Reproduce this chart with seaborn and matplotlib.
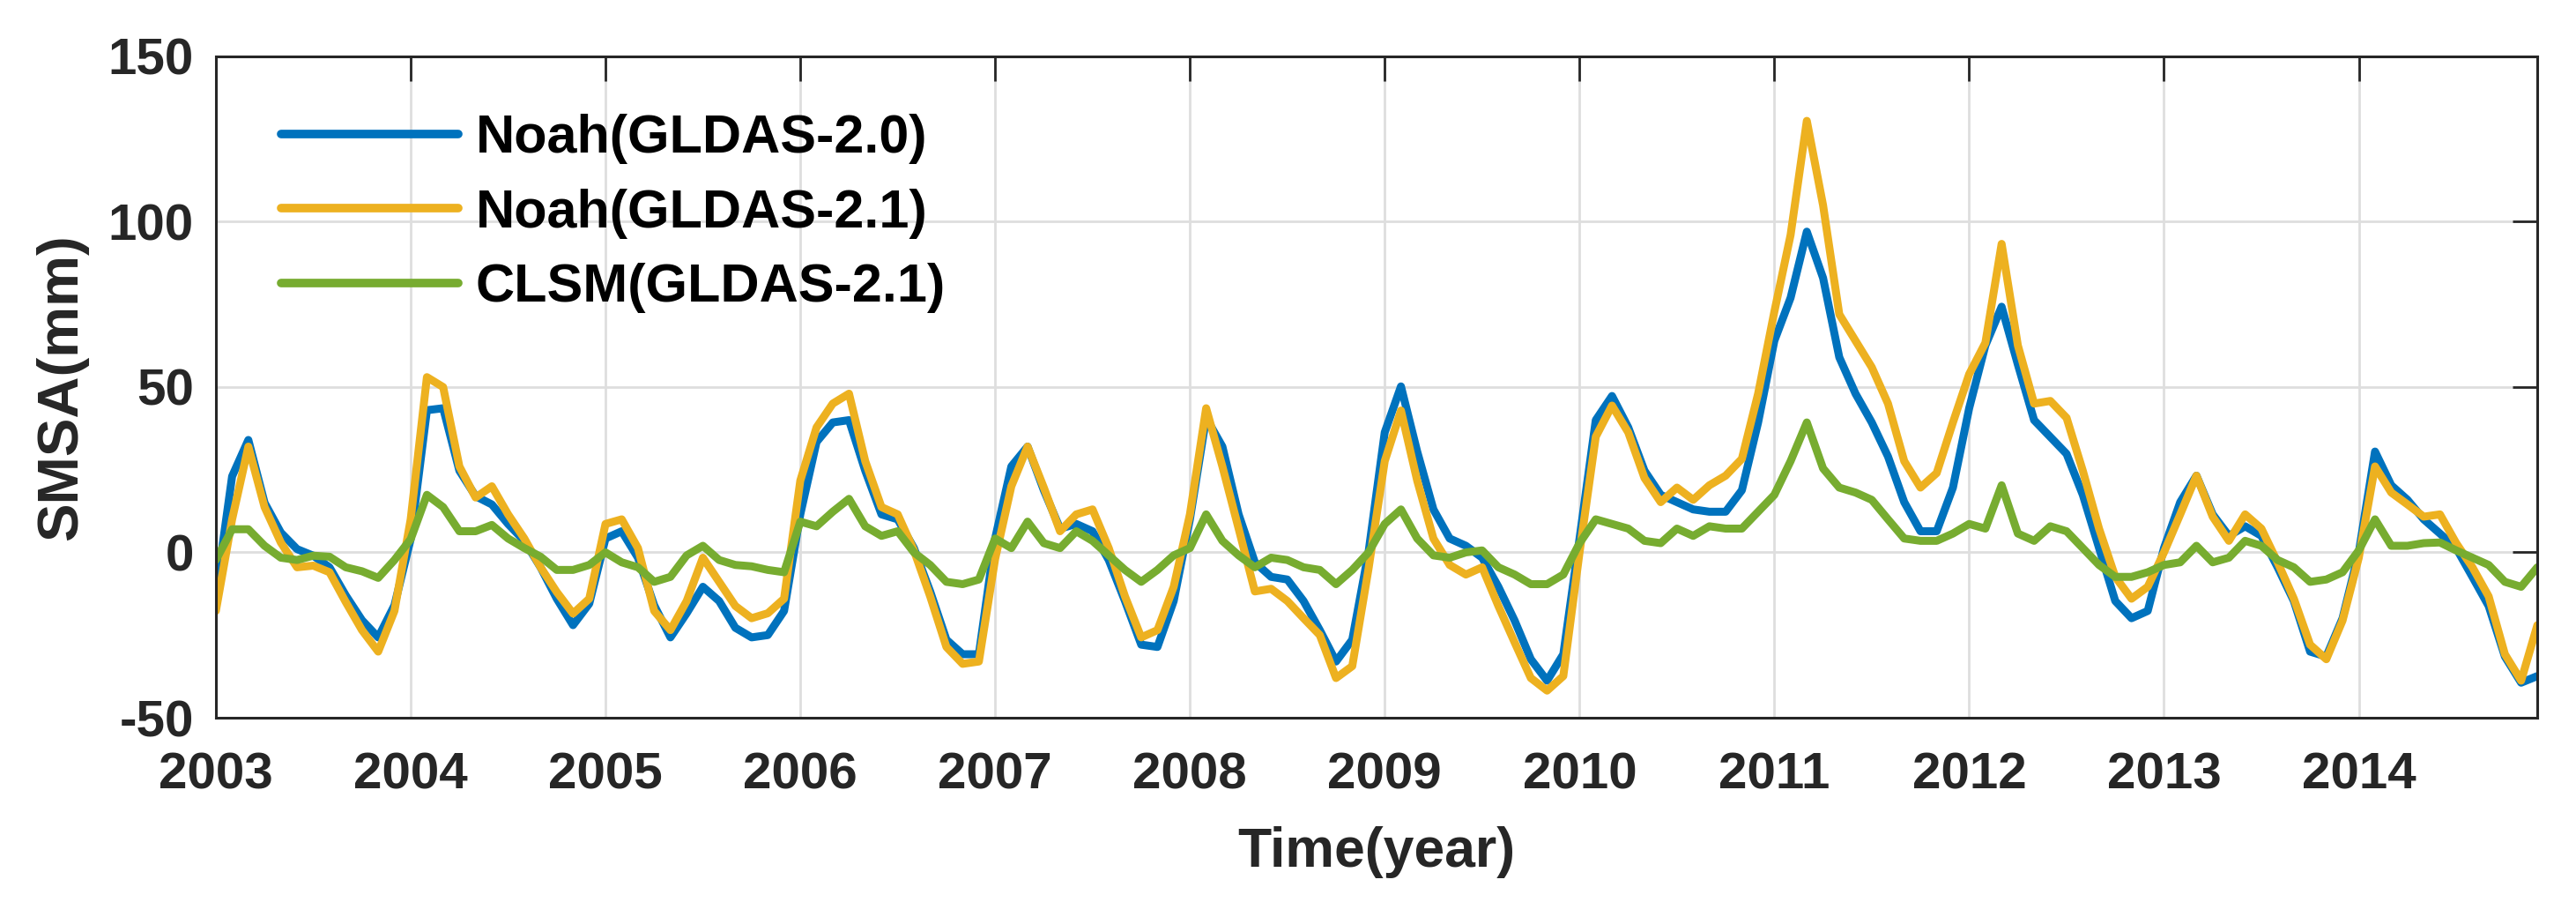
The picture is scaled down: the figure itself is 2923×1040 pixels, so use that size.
import numpy as np
import pandas as pd
import matplotlib
matplotlib.use("Agg")
import matplotlib.pyplot as plt
import seaborn as sns

# Monthly soil moisture storage anomaly (mm), Jan 2003 - Dec 2014
noah20 = [
    -12.5, 23, 34, 15, 6, 1, -1, -4.5, -13, -20.5, -25.7, -16,        # 2003
    4, 43, 43.6, 24.7, 17, 14.5, 8.6, 3.5, -4.5, -14, -22, -15.5,    # 2004
    4.2, 6.4, -1.6, -16, -25.7, -18.4, -10.4, -14.7, -22.8, -25.7, -25, -17.7,  # 2005
    11.5, 33.4, 39.3, 40, 24.7, 11.5, 10, 1.3, -11.8, -26.4, -30.8, -30.8,      # 2006
    4.2, 26, 32, 18.8, 7.2, 8.6, 6.4, -2.3, -14.7, -27.9, -28.6, -14.7,        # 2007
    10, 40.7, 32, 11.5, -3, -7.4, -8.2, -14.7, -23.5, -33, -26.4, 0,          # 2008
    36.3, 50.2, 30.5, 13, 4.2, 2, -1.6, -10.4, -20.6, -32.3, -38.8, -30.8,    # 2009
    4.2, 40, 47.3, 37.8, 24.7, 17.4, 15.2, 13, 12.3, 12.3, 18.8, 39.3,        # 2010
    64, 77, 97, 83, 59, 48, 39.3, 29, 15.2, 6.4, 6.4, 19.6,                   # 2011
    43.6, 62.6, 74.3, 56.8, 40, 34.9, 29.8, 17.4, 1.3, -14.7, -19.9, -17.7,   # 2012
    1.3, 15.2, 23.2, 11.5, 5, 7.9, 5, -4.5, -14.7, -30, -31.5, -19.9,         # 2013
    0, 30.5, 20.3, 15.9, 10, 5.7, 1.3, -7.4, -16.2, -31.5, -39.4, -37.4,      # 2014
]
noah21 = [
    -17.7, 10, 32, 13.7, 3, -4.5, -4, -6, -15, -23.5, -30, -17.7,
    10, 53, 50, 26, 16.6, 20, 11.5, 4.2, -4.5, -12, -18.5, -14,
    8.6, 10, 1.3, -17.7, -23.5, -14.7, -1.6, -8.9, -16.2, -19.9, -18.4, -14,
    21.7, 37.8, 45, 48, 27.6, 13.7, 11.5, 0.6, -13.3, -28.6, -33.7, -33,
    -2, 20, 32, 19.6, 6.4, 11.5, 13, 1.3, -13.3, -25.7, -23.5, -10.4,
    11.5, 43.6, 26, 7.2, -11.8, -11, -14.7, -19.9, -25, -38, -34.4, -5,
    27.6, 42.9, 21.7, 4.2, -3.8, -6.7, -4.5, -16.2, -27.2, -38, -41.8, -37.4,
    0, 35, 44.4, 36.3, 22.5, 15.2, 19.6, 15.9, 20.3, 23.2, 28.3, 48,
    72.8, 96, 130.5, 105, 72, 64, 56, 45, 27.6, 19.6, 24, 39.3,
    53.9, 63.4, 93.3, 62.6, 45, 45.8, 40.7, 24.7, 7.2, -7.4, -14, -10.4,
    0, 11.5, 23.2, 10.8, 3.5, 11.5, 7.2, -3, -14, -27.9, -32.3, -20.6,
    -1.6, 26, 18.1, 14.5, 10.8, 11.5, 2.8, -4.5, -13.3, -30.8, -38.8, -22,
]
clsm21 = [
    -2.3, 7, 7, 2, -1.6, -2.3, -1, -1.3, -4.5, -5.7, -7.7, -2.3,
    4, 17.4, 13.7, 6.4, 6.4, 8.3, 4.2, 1.3, -1.3, -5.3, -5.3, -3.8,
    0, -3, -4.5, -8.9, -7.4, -0.9, 2, -2.3, -3.8, -4.2, -5.3, -6,
    9.3, 7.9, 12.3, 16.2, 7.9, 5, 6.4, 0, -3.8, -8.9, -9.6, -8.2,
    4.2, 1.3, 9.3, 2.8, 1.3, 6.4, 3.5, -0.9, -5.3, -8.9, -5.3, -0.9,
    1.3, 11.5, 3.5, -0.9, -4.5, -1.6, -2.3, -4.5, -5.3, -9.6, -5.3, 0,
    8.6, 13, 4.2, -0.9, -1.6, 0, 0.6, -4.5, -6.7, -9.6, -9.6, -6.7,
    2.8, 10, 8.6, 7.2, 3.5, 2.8, 7.2, 5, 7.9, 7.2, 7.2, 12.3,
    17.4, 27.6, 39.3, 25.4, 19.6, 18.1, 15.9, 10, 4.2, 3.5, 3.5, 5.7,
    8.6, 7.2, 20.3, 5.7, 3.5, 7.9, 6.4, 1.3, -3.8, -7.4, -7.4, -6,
    -3.8, -3, 2, -3, -1.6, 3.5, 2, -2.3, -4.5, -8.9, -8.2, -6,
    0.6, 10, 2, 2, 2.8, 3, 0.6, -1.6, -3.8, -8.9, -10.4, -4.5,
]
series_names = ["Noah(GLDAS-2.0)", "Noah(GLDAS-2.1)", "CLSM(GLDAS-2.1)"]
colors = ["#0072BD", "#EDB120", "#77AC30"]
years = list(range(2003, 2015))
yticks = [-50, 0, 50, 100, 150]

time = 2003 + np.arange(len(noah20)) / 12.0
df = pd.DataFrame({
    "time": np.tile(time, 3),
    "value": noah20 + noah21 + clsm21,
    "model": np.repeat(series_names, len(time)),
})

sns.set_style("whitegrid")
plt.rcParams['font.family'] = ['Liberation Sans', 'DejaVu Sans']
plt.rcParams['font.weight'] = 'bold'
plt.rcParams['axes.unicode_minus'] = False

fig = plt.figure(figsize=(29.23, 10.40), dpi=100)
ax = fig.add_axes([0.0838, 0.2173, 0.9012, 0.7212])

sns.lineplot(data=df, x="time", y="value", hue="model", hue_order=series_names,
             palette=colors, linewidth=6.5, ax=ax)

ax.set_xlim(time[0], time[-1])
ax.set_ylim(-50, 150)
ax.set_xticks(years)
ax.set_xticklabels([str(y) for y in years])
ax.set_yticks(yticks)
ax.set_yticklabels([str(v) for v in yticks])
ax.tick_params(axis='both', which='both', direction='in', length=20, width=2,
               top=True, right=True, labelsize=42, colors='#262626')
ax.tick_params(axis='x', pad=28)
ax.tick_params(axis='y', pad=18)
for lab in ax.get_xticklabels() + ax.get_yticklabels():
    lab.set_fontweight('bold')
ax.grid(True, color='#dedede', linewidth=2)
for sp in ax.spines.values():
    sp.set_color('#262626')
    sp.set_linewidth(2.2)

ax.set_xlabel("Time(year)", fontsize=45, fontweight='bold', color='#262626', labelpad=22)
ax.set_ylabel("SMSA(mm)", fontsize=47, fontweight='bold', color='#262626', labelpad=16)

leg = ax.legend(loc='upper left', bbox_to_anchor=(0.028, 0.913), frameon=False,
                fontsize=44, handlelength=3.3, handletextpad=0.32,
                labelspacing=0.45, borderaxespad=0, borderpad=0)
for t in leg.get_texts():
    t.set_fontweight('bold')
    t.set_color('black')
for h in leg.get_lines():
    h.set_linewidth(7)

fig.savefig("out.png", dpi=100)
